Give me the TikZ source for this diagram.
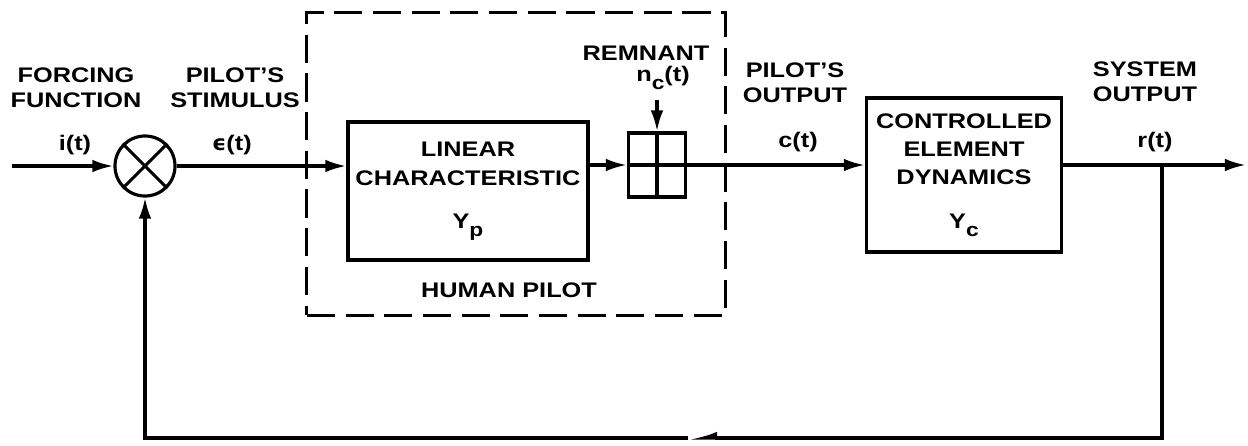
\documentclass[tikz,border=0pt]{standalone}
\usepackage{fontspec}
\setmainfont{Liberation Sans}[FakeStretch=1.2]
\newfontfamily\greekfont{DejaVu Sans}[FakeStretch=1.05]
\usepackage{tikz}
\usetikzlibrary{arrows.meta, positioning, calc}
\newcommand{\lowsub}[1]{\raisebox{-2.2pt}{\fontsize{5.4pt}{6pt}\selectfont #1}}

\begin{document}
\begin{tikzpicture}[
    x=0.01cm, y=-0.01cm,
    line width=0.9pt,
    every node/.style = {font=\bfseries\fontsize{6pt}{7.1pt}\selectfont},
    blockbox/.style = {rectangle, draw, line width=0.9pt, align=center, inner sep=0pt, font=\bfseries\fontsize{6pt}{8.3pt}\selectfont},
    sumcirc/.style = {circle, draw, line width=0.9pt, minimum size=0.6cm, inner sep=0pt},
    noisebox/.style = {rectangle, draw, line width=0.9pt, minimum width=0.57cm, minimum height=0.64cm, inner sep=0pt},
    pilotbox/.style = {rectangle, draw, line width=0.9pt, dash pattern=on 8pt off 3pt, minimum width=4.18cm, minimum height=3.02cm},
    sig/.style = {align=center, inner sep=1pt},
    arrow/.style = {draw, -{Latex[length=6pt, width=3.6pt]}, line width=0.9pt},
    fbarrow/.style = {draw, -{Latex[length=6pt, width=3.6pt, harpoon, swap]}, line width=0.9pt}
]
\useasboundingbox (0,0) rectangle (1248,445);

\node (pilot) [pilotbox] at (516,164) {};
\node (sumpt) [sumcirc] at (145,166) {};
\node (linchar) [blockbox, minimum width=2.4cm, minimum height=1.38cm] at (468,191) {LINEAR\\CHARACTERISTIC\\[4pt]Y\lowsub{p}};
\node (remsum) [noisebox] at (657,165) {};
\node (ctrlel) [blockbox, minimum width=1.95cm, minimum height=1.54cm, font=\bfseries\fontsize{6pt}{8pt}\selectfont] at (964,175) {CONTROLLED\\ELEMENT\\DYNAMICS\\[4.5pt]Y\lowsub{c}};

\draw (sumpt.north east) -- (sumpt.south west);
\draw (sumpt.north west) -- (sumpt.south east);
\draw (remsum.north) -- (remsum.south);
\draw (remsum.west) -- (remsum.east);

\node (forcelbl) [sig] at (76,88) {FORCING\\FUNCTION};
\node (stimlbl) [sig] at (235,88) {PILOT'S\\STIMULUS};
\node (inlbl) [sig] at (75,145) {i(t)};
\node (errlbl) [sig] at (232,145) {{\greekfont\bfseries ϵ}(t)};
\node (remlbl) [sig] at (646,53) {REMNANT};
\node (noiselbl) [sig] at (663,78) {n\lowsub{c}(t)};
\node (outlbl) [sig] at (795,83) {PILOT'S\\OUTPUT};
\node (ctlbl) [sig] at (798,142) {c(t)};
\node (syslbl) [sig] at (1145,82) {SYSTEM\\OUTPUT};
\node (rtlbl) [sig] at (1155,142) {r(t)};
\node (humlbl) [sig] at (509,290) {HUMAN PILOT};

\coordinate (inpt) at (12,166);
\coordinate (outpt) at (1246,165);
\coordinate (branch) at (1162,165);
\coordinate (fbmid) at (688,438);

\draw [arrow] (inpt) -- (sumpt.west);
\draw [arrow] (sumpt.east) -- (sumpt.east -| linchar.west);
\draw [arrow] (remsum.west -| linchar.east) -- (remsum.west);
\draw [arrow] (remsum.north |- 0,100) -- (remsum.north);
\draw [arrow] (remsum.east) -- (remsum.east -| ctrlel.west);
\draw [arrow] (remsum.east -| ctrlel.east) -- (outpt);
\draw [fbarrow] (branch) |- (fbmid);
\draw [arrow] (fbmid) -| (sumpt.south);

\end{tikzpicture}
\end{document}
